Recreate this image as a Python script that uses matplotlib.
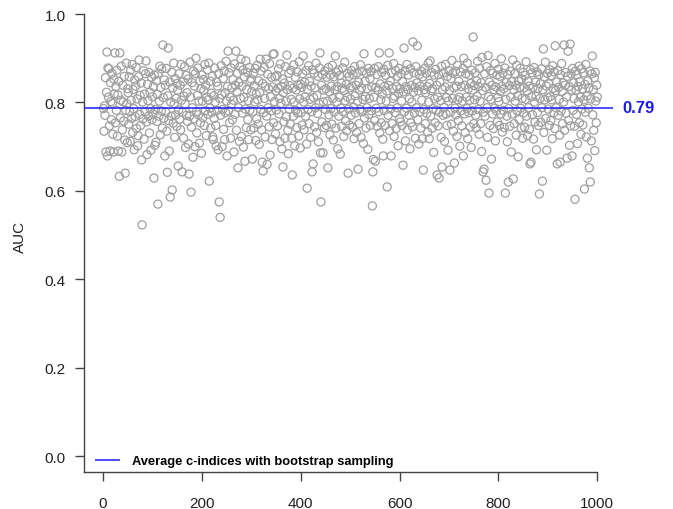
import numpy as np
import matplotlib
matplotlib.use("Agg")
import matplotlib.pyplot as plt

plt.rcParams['font.family'] = ['Liberation Sans', 'DejaVu Sans']

# Bootstrap AUC values (x1000), index 1..1000
auc_milli = [
    786,735,792,771,856,688,823,914,679,878, 812,876,747,690,845,802,761,866,798,728,
    688,853,819,912,754,836,782,873,724,817, 690,848,633,912,765,805,882,688,738,839,
    801,758,859,715,640,782,889,797,709,831,
    822,751,858,779,712,873,805,764,886,732, 829,786,693,851,768,837,879,741,808,702,
    725,858,896,773,816,748,844,670,523,801, 763,872,717,819,779,865,894,756,682,841,
    804,769,868,731,823,786,692,857,761,813,
    774,836,629,862,703,784,710,849,757,818, 570,866,769,803,882,727,834,781,876,742,
    930,811,764,851,679,839,778,877,735,642, 815,923,759,690,846,586,801,769,868,602,
    833,753,889,797,721,854,772,809,746,843,
    828,656,783,865,762,839,738,886,805,643, 778,847,719,814,881,796,698,861,771,822,
    757,853,706,638,769,891,812,597,744,845, 788,676,871,763,837,700,866,900,779,731,
    816,878,772,803,708,849,754,831,685,862,
    803,766,852,827,748,886,781,839,725,812, 874,773,806,889,622,787,848,742,821,777,
    859,722,716,815,764,878,801,748,702,846, 782,837,693,865,575,809,540,771,883,818,
    700,784,854,739,871,716,822,777,893,803,
    679,836,916,781,867,754,812,719,878,796, 833,761,852,805,688,887,773,839,916,737,
    824,866,652,788,845,712,881,809,898,723, 837,776,873,699,811,858,667,785,894,743,
    829,868,761,804,716,879,782,848,738,853,
    825,672,779,866,742,838,801,877,714,819, 763,884,806,751,849,705,822,898,784,871,
    738,665,843,645,777,879,809,722,836,898, 769,660,864,788,831,745,888,681,813,781,
    857,716,835,909,754,910,802,858,729,826,
    783,861,747,832,876,774,809,711,887,798, 836,695,853,654,822,756,844,719,881,803,
    768,907,829,737,684,866,785,838,751,873, 807,719,636,832,769,885,801,702,857,782,
    828,743,869,776,839,724,892,808,697,841,
    777,834,749,865,905,801,738,846,813,769, 872,706,606,829,784,883,752,848,807,721,
    837,779,643,874,661,811,866,745,833,788, 889,732,816,775,859,711,797,878,912,686,
    575,839,756,863,686,801,828,743,871,784,
    831,748,857,803,652,879,772,824,727,862, 786,837,751,884,809,715,858,778,829,905,
    742,868,801,836,695,873,769,812,861,683, 787,844,746,832,878,779,723,827,891,804,
    758,841,736,866,812,640,785,859,749,833,
    808,771,872,837,744,863,789,718,881,815, 776,839,732,867,803,649,846,752,828,784,
    885,721,833,779,871,807,707,910,765,848, 813,742,866,788,831,694,877,773,809,854,
    748,869,781,835,566,643,671,812,877,759,
    667,834,787,863,746,828,881,779,912,731, 842,806,754,868,819,717,679,875,782,837,
    748,861,803,826,609,884,771,839,912,736, 848,785,679,867,752,831,809,888,723,814,
    777,872,741,836,788,859,702,821,877,763,
    831,756,865,803,748,847,658,824,923,779, 872,713,836,787,886,738,829,862,771,808,
    695,876,754,839,801,745,937,823,867,776, 834,719,881,788,844,928,761,826,706,863,
    779,837,742,871,805,718,858,647,784,829,
    877,752,822,866,775,836,733,889,801,718, 843,894,769,827,868,742,831,786,687,862,
    808,754,875,783,839,636,812,747,863,629, 778,846,804,721,882,654,829,771,867,789,
    712,835,886,774,811,748,859,692,803,872,
    827,647,778,854,751,895,809,866,735,833, 663,787,871,772,837,723,884,806,759,848,
    812,701,869,781,836,747,803,877,679,900, 774,839,732,865,812,786,889,718,831,777,
    862,805,744,843,698,873,781,828,948,752,
    838,806,867,771,742,849,814,893,784,836, 728,877,803,752,845,689,902,827,643,778,
    649,865,769,834,624,881,788,721,906,813, 595,846,748,872,807,672,839,774,866,741,
    829,787,888,713,835,781,862,756,811,875,
    802,748,859,825,774,899,837,733,866,782, 831,743,878,595,807,845,769,711,863,620,
    786,838,746,871,812,688,847,774,896,627, 828,752,865,803,839,726,884,781,815,677,
    848,761,834,877,787,742,853,809,719,868,
    776,833,744,861,807,892,769,826,725,848, 788,837,739,661,874,665,813,867,772,834,
    717,879,801,756,846,814,693,869,777,832, 748,863,593,809,842,755,876,788,622,829,
    921,732,858,806,891,764,837,692,866,811,
    785,842,748,874,813,759,861,806,718,883, 832,777,869,741,928,827,788,846,661,872,
    771,834,807,726,665,863,781,888,825,752, 844,801,930,737,839,868,776,812,674,859,
    916,759,836,703,932,747,865,828,679,877,
    782,844,809,746,581,871,828,773,863,707, 836,801,882,754,847,812,728,876,785,831,
    749,867,806,604,841,778,886,722,814,674, 849,787,833,652,871,620,808,713,865,905,
    772,829,737,856,691,868,803,754,839,812,
]
auc = np.array(auc_milli) / 1000.0
iteration = np.arange(1, len(auc) + 1)

mean_auc = 0.788
mean_label = "0.79"
legend_label = "Average c-indices with bootstrap sampling"
x_ticks = [0, 200, 400, 600, 800, 1000]
y_ticks = [0.0, 0.2, 0.4, 0.6, 0.8, 1.0]

W, H = 673, 510
fig = plt.figure(figsize=(W / 100, H / 100), dpi=100)
ax_l, ax_r, ax_b, ax_t = 84, 617, 473, 0
ax = fig.add_axes([ax_l / W, 1 - ax_b / H, (ax_r - ax_l) / W, (ax_b - ax_t) / H])

xlim = (-38.5, 1040)
ylim = (-0.036, 1.034)

ax.scatter(iteration, auc, s=34, facecolors='none', edgecolors='#a0a0a0',
           linewidths=0.9, zorder=2)
ax.hlines(mean_auc, xlim[0], 1032, colors='#1a1aff', linewidth=1.1, zorder=3,
          label=legend_label)
ax.text(1050, mean_auc, mean_label, color='#1a1aee', fontsize=12,
        fontweight='bold', ha='left', va='center', clip_on=False)

ax.set_xlim(*xlim)
ax.set_ylim(*ylim)
ax.set_xticks(x_ticks)
ax.set_xticklabels([str(t) for t in x_ticks])
ax.set_yticks(y_ticks)
ax.set_yticklabels([f"{t:.1f}" for t in y_ticks])

for s in ['top', 'right']:
    ax.spines[s].set_visible(False)
for s in ['left', 'bottom']:
    ax.spines[s].set_color('#444444')
    ax.spines[s].set_linewidth(1.0)
ax.spines['left'].set_bounds(ylim[0], 1.0)
ax.spines['bottom'].set_bounds(xlim[0], 1000)

ax.tick_params(axis='both', direction='out', length=6.5, width=1.0,
               color='#444444', labelsize=11, labelcolor='#222222')
ax.tick_params(axis='y', pad=6.5)
ax.tick_params(axis='x', pad=10.5)

ax.set_ylabel("AUC", fontsize=11, color='#222222')
ax.yaxis.set_label_coords(-0.107, 0.5)

leg = ax.legend(loc='lower left', bbox_to_anchor=(11 / (ax_r - ax_l), 0.010),
                frameon=False, borderpad=0, borderaxespad=0, handlelength=1.9,
                handletextpad=0.95, prop={'size': 9.3, 'weight': 'bold'})

fig.savefig("out.png", dpi=100)
